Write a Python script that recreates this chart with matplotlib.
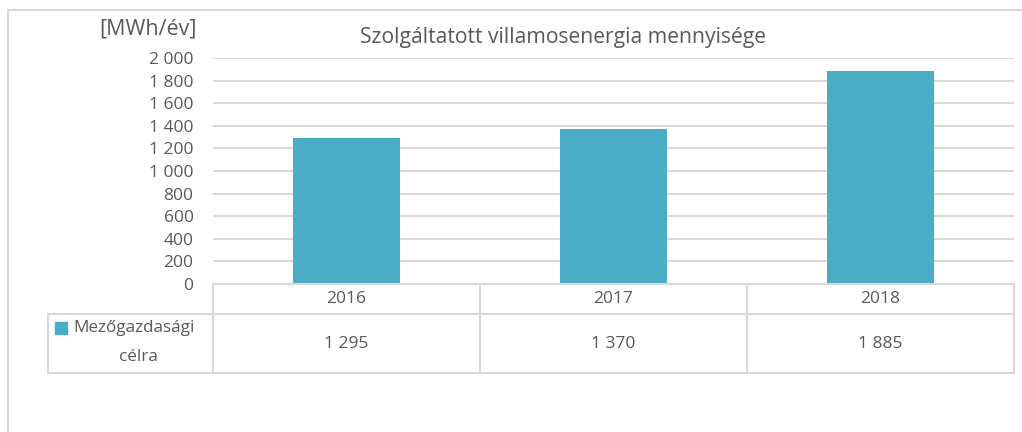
import matplotlib.pyplot as plt
from matplotlib.lines import Line2D
from matplotlib.patches import Rectangle

# data
years = ['2016', '2017', '2018']
values = [1295, 1370, 1885]
series_name = 'Mezőgazdasági\ncélra'
y_ticks = [0, 200, 400, 600, 800, 1000, 1200, 1400, 1600, 1800, 2000]

bar_color = '#4BACC6'
grid_color = '#D9D9D9'
text_color = '#595959'

plt.rcParams['font.family'] = ['Open Sans', 'DejaVu Sans']

W, H = 1022, 432
fig = plt.figure(figsize=(W / 100, H / 100), dpi=100)


def fx(px):
    return px / W


def fy(py):
    return 1 - py / H


# plot area
left, right, top, bottom = 213, 1014, 58, 284
ax = fig.add_axes([fx(left), fy(bottom), fx(right - left), (bottom - top) / H])
ax.bar(range(len(years)), values, width=0.4, color=bar_color, zorder=3)
ax.set_xlim(-0.5, len(years) - 0.5)
ax.set_ylim(0, 2000)
ax.set_yticks(y_ticks)
ax.set_yticklabels([f'{v:,}'.replace(',', ' ') for v in y_ticks])
ax.set_xticks([])
ax.tick_params(axis='y', length=0, pad=14, labelsize=12.5, labelcolor=text_color)
ax.grid(axis='y', color=grid_color, linewidth=1.5, zorder=0)
for s in ax.spines.values():
    s.set_visible(False)

# title and unit
fig.text(fx(563), fy(38), 'Szolgáltatott villamosenergia mennyisége',
         ha='center', va='center', fontsize=15.2, color=text_color)
fig.text(fx(197), fy(29), '[MWh/év]', ha='right', va='center',
         fontsize=15.5, color=text_color)

# outer border
fig.add_artist(Line2D([fx(8), fx(8)], [fy(10), 0], color=grid_color, lw=1.5))
fig.add_artist(Line2D([fx(8), 1], [fy(10), fy(10)], color=grid_color, lw=1.5))

# data table under the chart
col_w = (right - left) / len(years)
row1, row2, row3 = 284, 314, 373
lines = [
    ([left, right], [row1, row1]),
    ([48, right], [row2, row2]),
    ([48, right], [row3, row3]),
    ([48, 48], [row2, row3]),
]
for i in range(len(years) + 1):
    x = left + i * col_w
    lines.append(([x, x], [row1, row3]))
for xs, ys in lines:
    fig.add_artist(Line2D([fx(v) for v in xs], [fy(v) for v in ys],
                          color=grid_color, lw=1.5))

for i, (yr, v) in enumerate(zip(years, values)):
    cx = left + (i + 0.5) * col_w
    fig.text(fx(cx), fy((row1 + row2) / 2), yr, ha='center', va='center',
             fontsize=12.5, color=text_color)
    fig.text(fx(cx), fy((row2 + row3) / 2), f'{v:,}'.replace(',', ' '),
             ha='center', va='center', fontsize=12.5, color=text_color)

fig.add_artist(Rectangle((fx(55), fy(334)), fx(12), 12 / H, color=bar_color))
name1, name2 = series_name.split('\n')
fig.text(fx(73), fy(328), name1, ha='left', va='center', fontsize=12.3, color=text_color)
fig.text(fx(138), fy(357), name2, ha='center', va='center', fontsize=12.3, color=text_color)

fig.savefig('out.png', dpi=100)
